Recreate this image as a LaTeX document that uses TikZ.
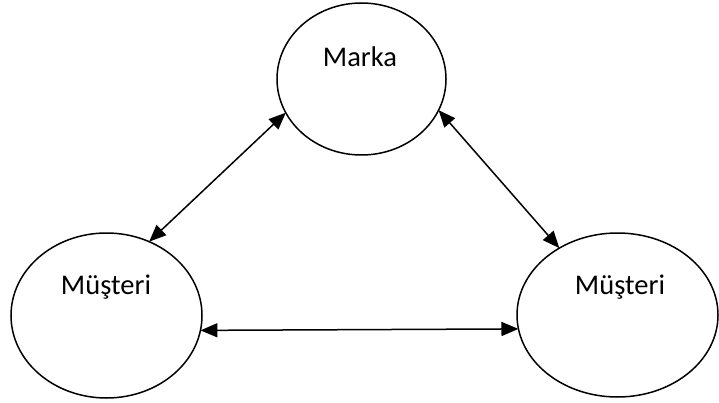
\documentclass[tikz,border=0pt]{standalone}
\usepackage{fontspec}
\setmainfont{Carlito}
\usetikzlibrary{shapes.geometric,arrows.meta}
\begin{document}
\begin{tikzpicture}[x=1pt,y=-1pt,
  oval/.style={draw=black,line width=1.5pt,ellipse,inner sep=0pt,outer sep=0pt},
  lbl/.style={inner sep=0pt,font=\fontsize{28.5}{34}\selectfont},
  link/.style={line width=1.5pt,{Triangle[length=17pt,width=14pt]}-{Triangle[length=17pt,width=14pt]}}]
\useasboundingbox (0,0) rectangle (719,403);
\node[oval,minimum width=169pt,minimum height=152pt] (marka) at (361.5,79) {};
\node[oval,minimum width=191pt,minimum height=165pt] (m1) at (106.5,315.5) {};
\node[oval,minimum width=201pt,minimum height=164pt] (m2) at (617.5,315) {};
\node[lbl] (tm) at (360,57) {Marka};
\node[lbl] (t1) at (106,287) {Müşteri};
\node[lbl] (t2) at (620,287) {Müşteri};
\draw[link] (marka.204) -- (m1.60);
\draw[link] (marka.338) -- (m2.131);
\draw[link] (m1.351.5) -- (m2.188);
\end{tikzpicture}
\end{document}
